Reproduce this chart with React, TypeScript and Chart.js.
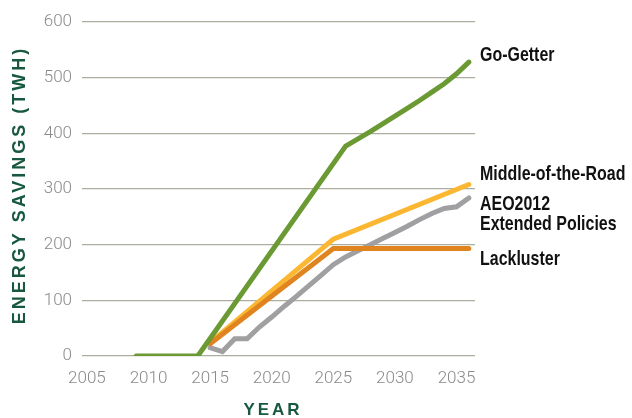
import React, { useEffect, useRef } from "react";
import { Chart, registerables } from "chart.js";

Chart.register(...registerables);

// ---- Data ----
const xTickYears = [2005, 2010, 2015, 2020, 2025, 2030, 2035];
const yTickValues = [0, 100, 200, 300, 400, 500, 600];

const goGetterYears = [2009, 2014, 2026, 2027, 2028, 2029, 2030, 2031, 2032, 2033, 2034, 2035, 2036];
const goGetterValues = [0, 0, 377, 390, 403, 417, 431, 445, 459, 474, 489, 507, 528];

const middleYears = [2015, 2025, 2036];
const middleValues = [24, 210, 308];

const lacklusterYears = [2015, 2025, 2036];
const lacklusterValues = [22, 193, 193];

const aeoYears = [2015, 2016, 2017, 2018, 2019, 2020, 2021, 2022, 2023, 2024, 2025, 2026, 2027, 2028, 2029, 2030, 2031, 2032, 2033, 2034, 2035, 2036];
const aeoValues = [15, 8, 31, 31, 52, 70, 89, 107, 126, 145, 164, 178, 189, 200, 211, 222, 233, 245, 256, 265, 268, 284];

const seriesNames = ["Go-Getter", "Lackluster", "Middle-of-the-Road", "AEO2012 Extended Policies"];
const yTitle = "ENERGY SAVINGS (TWH)";
const xTitle = "YEAR";

const toPoints = (xs: number[], ys: number[]) => xs.map((x, i) => ({ x, y: ys[i] }));

const TICK_FONT = "Roboto, 'DejaVu Sans Condensed', sans-serif";
const TITLE_COLOR = "#17583f";

// labels drawn beside each line end: dataset index, lines, vertical offset from last point
const endLabels = [
  { ds: 0, lines: ["Go-Getter"], dy: -8.5 },
  { ds: 2, lines: ["Middle-of-the-Road"], dy: -12 },
  { ds: 3, lines: ["AEO2012", "Extended Policies"], dy: 5 },
  { ds: 1, lines: ["Lackluster"], dy: 9 },
];

const annotatePlugin = {
  id: "annotate",
  afterDraw(chart: any) {
    const { ctx, chartArea } = chart;
    ctx.save();
    // Y title
    ctx.fillStyle = TITLE_COLOR;
    ctx.font = "bold 18px 'Liberation Sans', Arial, sans-serif";
    (ctx as any).letterSpacing = "3px";
    ctx.textAlign = "center";
    ctx.textBaseline = "middle";
    ctx.save();
    ctx.translate(20, 185);
    ctx.rotate(-Math.PI / 2);
    ctx.fillText(yTitle, 0, 0);
    ctx.restore();
    // X title
    ctx.font = "bold 17px 'Liberation Sans', Arial, sans-serif";
    (ctx as any).letterSpacing = "3px";
    ctx.fillText(xTitle, 273, 410);
    (ctx as any).letterSpacing = "0px";

    // End labels (condensed bold)
    ctx.fillStyle = "#111111";
    ctx.font = "bold 21px 'Liberation Sans', Arial, sans-serif";
    ctx.textAlign = "left";
    ctx.textBaseline = "alphabetic";
    const sx = 0.76;
    endLabels.forEach((lab) => {
      const meta = chart.getDatasetMeta(lab.ds);
      const last = meta.data[meta.data.length - 1];
      const cy = last.y + lab.dy;
      lab.lines.forEach((t, i) => {
        ctx.save();
        ctx.translate(chartArea.right + 5, cy + i * 20 + 7.5);
        ctx.scale(sx, 1);
        ctx.fillText(t, 0, 0);
        ctx.restore();
      });
    });
    ctx.restore();
  },
};

export default function App() {
  const ref = useRef<HTMLCanvasElement | null>(null);
  useEffect(() => {
    document.body.style.margin = "0";
    const canvas = ref.current!;
    const lineDs = (label: string, data: any[], color: string) => ({
      label,
      data,
      borderColor: color,
      backgroundColor: color,
      borderWidth: 5,
      borderCapStyle: "round" as const,
      borderJoinStyle: "miter" as const,
      pointRadius: 0,
      tension: 0,
      fill: false,
    });
    const chart = new Chart(canvas, {
      type: "line",
      data: {
        datasets: [
          lineDs(seriesNames[0], toPoints(goGetterYears, goGetterValues), "#6b9a34"),
          lineDs(seriesNames[1], toPoints(lacklusterYears, lacklusterValues), "#e0841f"),
          lineDs(seriesNames[2], toPoints(middleYears, middleValues), "#fbb731"),
          lineDs(seriesNames[3], toPoints(aeoYears, aeoValues), "#a0a0a2"),
        ],
      },
      options: {
        animation: false,
        responsive: false,
        layout: { padding: { left: 42, right: 157, top: 22, bottom: 0 } },
        plugins: { legend: { display: false }, tooltip: { enabled: false } },
        scales: {
          x: {
            type: "linear",
            min: 2004.6,
            max: 2036.5,
            afterBuildTicks: (s: any) => {
              s.ticks = xTickYears.map((v) => ({ value: v }));
            },
            afterFit: (s: any) => {
              s.height = 62;
            },
            grid: { display: false, drawTicks: false },
            border: { display: false },
            ticks: {
              color: "#8a8a8a",
              font: { family: TICK_FONT, size: 17, weight: "300" },
              padding: 13,
              maxRotation: 0,
              callback: (v: any) => String(v),
            },
          },
          y: {
            min: 0,
            max: 600,
            afterBuildTicks: (s: any) => {
              s.ticks = yTickValues.map((v) => ({ value: v }));
            },
            afterFit: (s: any) => {
              s.width = 40;
            },
            grid: { color: "#acac9f", lineWidth: 1.2, drawTicks: false },
            border: { display: false },
            ticks: {
              color: "#8a8a8a",
              font: { family: TICK_FONT, size: 17, weight: "300" },
              padding: 10,
            },
          },
        },
      },
      plugins: [annotatePlugin],
    });
    return () => chart.destroy();
  }, []);
  return (
    <div style={{ width: 632, height: 418 }}>
      <canvas ref={ref} width={632} height={418} style={{ display: "block" }} />
    </div>
  );
}
